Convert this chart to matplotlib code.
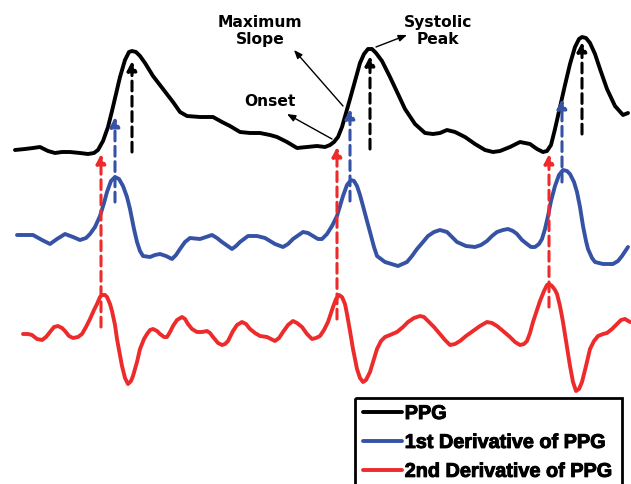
import matplotlib
matplotlib.use("Agg")
import matplotlib.pyplot as plt
import matplotlib.patheffects as pe
from matplotlib.patches import Rectangle
from matplotlib.font_manager import FontProperties
import numpy as np

# sample positions / values (pixel-like units, y grows downward)
ppg_t = [15, 25, 33, 40, 48, 55, 62, 70, 80, 88, 94, 98, 103, 108, 112, 116, 120, 125, 129, 132,
         136, 140, 145, 153, 163, 173, 180, 187, 200, 213, 222, 230, 240, 250, 260, 270, 277, 287,
         297, 307, 317, 325, 330, 334, 338, 342, 346, 350, 355, 360, 364, 368, 372, 376, 382, 390,
         398, 405, 415, 425, 433, 440, 447, 455, 465, 475, 485, 493, 500, 510, 520, 530, 537, 543,
         547, 551, 555, 560, 565, 570, 575, 579, 582, 586, 590, 595, 600, 607, 615, 623, 628]
ppg = [151, 150, 149, 148, 152, 154, 153, 153, 154, 155, 154, 151, 142, 128, 112, 95, 78, 61, 53, 52,
       53, 57, 64, 77, 90, 103, 113, 117, 118, 118, 123, 127, 133, 134, 134, 136, 138, 143,
       149, 148, 147, 148, 146, 143, 138, 128, 114, 100, 82, 64, 55, 50, 50, 54, 62, 78,
       95, 110, 125, 134, 135, 134, 131, 133, 138, 145, 151, 153, 152, 148, 143, 145, 150, 153,
       152, 146, 130, 108, 86, 65, 48, 40, 38, 39, 44, 55, 70, 90, 107, 116, 114]

d1_t = [17, 25, 33, 42, 50, 57, 65, 73, 80, 86, 90, 95, 100, 104, 107, 111, 115, 119, 123, 127,
        130, 134, 137, 140, 143, 150, 155, 160, 166, 172, 176, 180, 185, 190, 200, 206, 212, 217,
        222, 232, 236, 240, 248, 257, 265, 275, 283, 288, 293, 303, 308, 313, 318, 322, 327, 332,
        337, 343, 347, 351, 354, 357, 360, 363, 367, 370, 374, 377, 385, 398, 407, 412, 417, 423,
        428, 434, 440, 447, 452, 457, 466, 475, 481, 487, 492, 497, 503, 508, 513, 517, 522, 527,
        531, 535, 539, 542, 545, 548, 551, 555, 559, 563, 567, 570, 574, 577, 580, 583, 586, 588,
        592, 595, 603, 613, 618, 622, 628]
d1 = [236, 236, 236, 241, 245, 240, 235, 238, 241, 239, 235, 228, 217, 204, 193, 182, 178, 180, 187, 198,
      210, 230, 243, 252, 257, 258, 256, 255, 257, 260, 256, 250, 243, 239, 240, 238, 236, 239,
      243, 250, 247, 243, 237, 237, 239, 245, 248, 245, 240, 233, 234, 237, 240, 240, 235, 227,
      217, 197, 186, 181, 182, 187, 196, 207, 222, 233, 248, 257, 263, 267, 263, 257, 250, 243,
      237, 233, 231, 233, 238, 243, 247, 248, 246, 242, 237, 233, 231, 230, 232, 235, 241, 245,
      248, 248, 245, 240, 230, 217, 202, 187, 176, 171, 172, 175, 183, 193, 208, 227, 242, 250,
      259, 263, 265, 265, 262, 257, 248]

d2_t = [23, 28, 32, 37, 42, 46, 50, 54, 58, 62, 65, 69, 73, 78, 82, 86, 90, 94, 97, 100,
        102, 105, 107, 110, 112, 115, 117, 120, 122, 125, 128, 131, 133, 137, 140, 144, 147, 150,
        153, 157, 160, 164, 167, 170, 173, 177, 182, 185, 188, 192, 197, 202, 207, 210, 213, 218,
        222, 225, 228, 233, 237, 242, 246, 250, 255, 260, 267, 271, 275, 279, 283, 288, 293, 297,
        302, 307, 312, 316, 320, 324, 328, 333, 336, 339, 342, 345, 347, 350, 353, 357, 360, 363,
        366, 370, 373, 377, 381, 385, 390, 397, 403, 408, 414, 420, 424, 428, 434, 440, 445, 450,
        455, 460, 466, 473, 480, 487, 492, 497, 503, 510, 515, 520, 524, 527, 530, 533, 537, 540,
        544, 547, 549, 552, 555, 557, 560, 563, 566, 570, 573, 576, 579, 582, 586, 590, 594, 598,
        603, 607, 612, 617, 621, 625, 630]
d2 = [335, 335, 336, 340, 341, 338, 333, 328, 327, 329, 332, 337, 339, 338, 335, 328, 320, 311, 305, 298,
      296, 296, 298, 305, 312, 326, 340, 356, 367, 379, 385, 382, 377, 363, 350, 340, 335, 331,
      330, 332, 335, 338, 338, 333, 327, 321, 318, 320, 325, 330, 333, 333, 332, 334, 338, 344,
      346, 345, 342, 332, 326, 323, 325, 330, 334, 337, 338, 340, 342, 339, 333, 326, 322, 324,
      328, 335, 340, 339, 337, 331, 323, 308, 300, 296, 298, 305, 315, 332, 350, 370, 379, 383,
      381, 373, 363, 350, 342, 338, 336, 333, 328, 323, 319, 317, 318, 322, 328, 335, 341, 346,
      345, 342, 337, 332, 327, 323, 324, 327, 332, 338, 343, 346, 345, 342, 334, 323, 311, 302,
      292, 286, 285, 287, 291, 295, 307, 323, 342, 367, 383, 392, 390, 383, 367, 350, 342, 337,
      335, 334, 330, 325, 321, 320, 323]

# fiducial points per beat: x position, arrow tip, dash end
onset_x = [101, 337, 549]
onset_tip = [155, 148, 155]
onset_end = [328, 320, 308]
slope_x = [115, 350, 562]
slope_tip = [118, 110, 100]
slope_end = [203, 202, 183]
peak_x = [132, 370, 582]
peak_tip = [62, 57, 43]
peak_end = [153, 150, 135]

labels = ["PPG", "1st Derivative of PPG", "2nd Derivative of PPG"]

BLACK = "#000000"
BLUE = "#3652a5"
RED = "#ee2b2b"

fig = plt.figure(figsize=(6.31, 4.85), dpi=100)
ax = fig.add_axes([0, 0, 1, 1])
ax.set_xlim(0, 631)
ax.set_ylim(485, 0)
ax.axis("off")

lw = 2.8
h1, = ax.plot(ppg_t, ppg, color=BLACK, lw=lw, solid_joinstyle="round", solid_capstyle="round")
h2, = ax.plot(d1_t, d1, color=BLUE, lw=lw, solid_joinstyle="round", solid_capstyle="round")
h3, = ax.plot(d2_t, d2, color=RED, lw=lw, solid_joinstyle="round", solid_capstyle="round")


def dashed_arrow(x, tip, end, color):
    ax.annotate("", xy=(x, tip), xytext=(x, end),
                arrowprops=dict(arrowstyle="-|>,head_length=0.55,head_width=0.28",
                                color=color, lw=2.2, linestyle=(0, (3.2, 1.8)),
                                shrinkA=0, shrinkB=0))


for i in range(3):
    dashed_arrow(onset_x[i], onset_tip[i], onset_end[i], RED)
    dashed_arrow(slope_x[i], slope_tip[i], slope_end[i], BLUE)
    dashed_arrow(peak_x[i], peak_tip[i], peak_end[i], BLACK)

# callouts
txt = dict(fontsize=11.2, fontweight="bold", ha="center", va="center", family="DejaVu Sans")
thin = dict(arrowstyle="-|>,head_length=0.5,head_width=0.2", color=BLACK, lw=1.0,
            shrinkA=0, shrinkB=0)
ax.text(260, 31, "Maximum\nSlope", **txt)
ax.text(438, 31, "Systolic\nPeak", **txt)
ax.text(270, 101, "Onset", **txt)
ax.annotate("", xy=(294, 51), xytext=(343, 107), arrowprops=thin)
ax.annotate("", xy=(287, 115), xytext=(332, 140), arrowprops=thin)
ax.annotate("", xy=(407, 36), xytext=(376, 48), arrowprops=thin)

# legend box (bottom edge runs off the picture)
ax.add_patch(Rectangle((355, 399), 267, 100, fill=False, edgecolor=BLACK, lw=2.0, zorder=5))
leg_font = FontProperties(family="Liberation Sans", weight="bold", size=14.3)
leg = ax.legend([h1, h2, h3], labels, loc="upper left", bbox_to_anchor=(363, 405),
                bbox_transform=ax.transData, frameon=False, borderpad=0, borderaxespad=0,
                handlelength=1.95, handletextpad=0.15, labelspacing=0.5, prop=leg_font)
for t in leg.get_texts():
    t.set_path_effects([pe.withStroke(linewidth=0.7, foreground=BLACK)])

fig.savefig("out.png", dpi=100)
